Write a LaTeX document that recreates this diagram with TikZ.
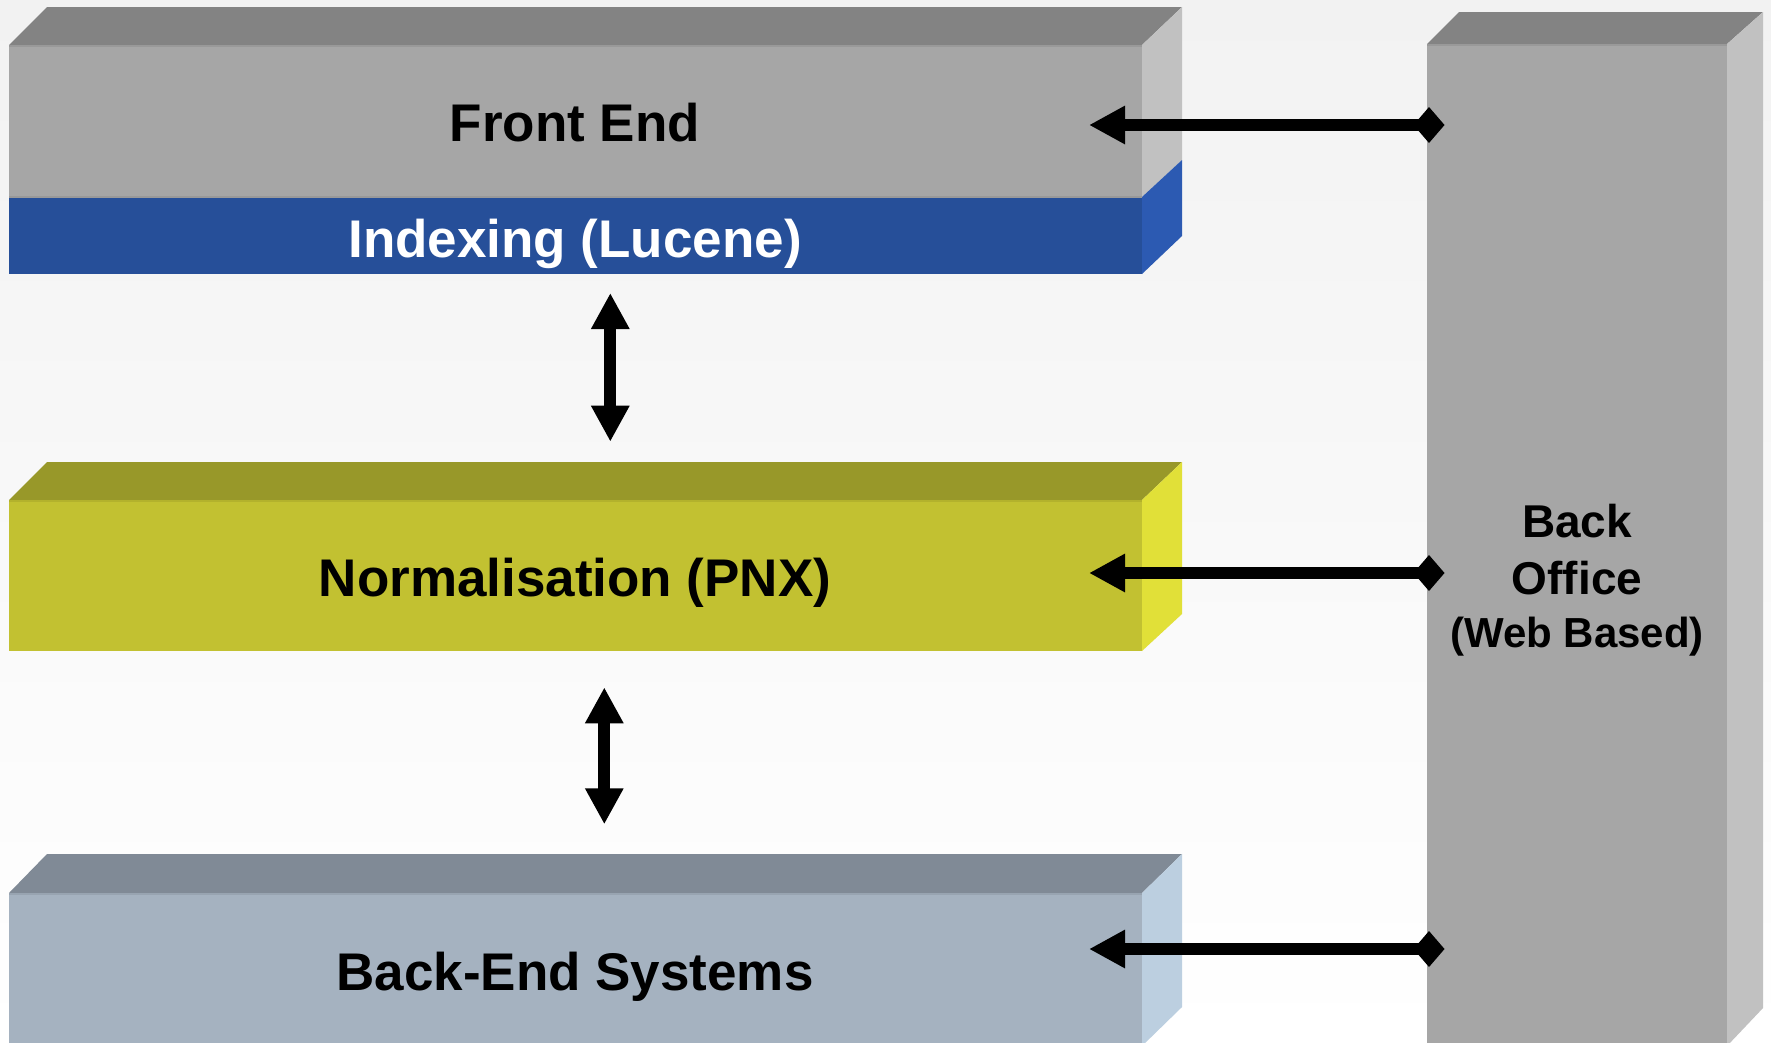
\documentclass[tikz,border=0pt]{standalone}
\usepackage{fontspec}
\setmainfont{Liberation Sans}
\usetikzlibrary{arrows.meta}
\definecolor{bgtop}{HTML}{F2F2F2}
\definecolor{gtop}{HTML}{838383}
\definecolor{gfront}{HTML}{A6A6A6}
\definecolor{gside}{HTML}{C1C1C1}
\definecolor{gedge}{HTML}{999999}
\definecolor{bfront}{HTML}{264F99}
\definecolor{bside}{HTML}{2C5AB2}
\definecolor{ytop}{HTML}{989829}
\definecolor{yfront}{HTML}{C2C131}
\definecolor{yside}{HTML}{E1E038}
\definecolor{yedge}{HTML}{B3B22C}
\definecolor{stop}{HTML}{808A96}
\definecolor{sfront}{HTML}{A5B2C0}
\definecolor{sside}{HTML}{BCCFE0}
\definecolor{sedge}{HTML}{98A4B1}
\begin{document}
\begin{tikzpicture}[x=1pt,y=-1pt,
  lbl/.style={font=\bfseries\fontsize{53}{60}\selectfont, anchor=base, inner sep=0pt},
  bolbl/.style={font=\bfseries\fontsize{46}{52}\selectfont, anchor=base, inner sep=0pt},
  bosmall/.style={font=\bfseries\fontsize{42}{48}\selectfont, anchor=base, inner sep=0pt},
  vconn/.style={line width=12pt, {Triangle[length=36pt,width=36pt]}-{Triangle[length=36pt,width=36pt]}},
  hconn/.style={line width=12pt, {Diamond[length=31pt,width=36pt]}-{Triangle[length=36pt,width=36pt]}}]
\shade[top color=bgtop, bottom color=white] (0,0) rectangle (1771,1042);
\useasboundingbox (0,0) rectangle (1771,1042);
\clip (0,0) rectangle (1771,1042);

% Front End / Indexing block
\fill[gtop] (9,45) -- (47,7) -- (1182,7) -- (1142,45) -- cycle;
\fill[gfront] (9,45) rectangle (1142,197);
\draw[gedge, line width=2pt] (9,46) -- (1142,46);
\fill[gside] (1142,45) -- (1182,7) -- (1182,160) -- (1142,197) -- cycle;
\fill[bfront] (9,197) rectangle (1142,274);
\draw[gedge, line width=2pt] (9,197) -- (1142,197);
\fill[bside] (1142,197) -- (1182,160) -- (1182,236) -- (1142,274) -- cycle;
\node[lbl] (fe) at (575,141) {Front End};
\node[lbl, text=white] (idx) at (575,257) {Indexing (Lucene)};

% Normalisation block
\fill[ytop] (9,500) -- (47,462) -- (1182,462) -- (1142,500) -- cycle;
\fill[yfront] (9,500) rectangle (1142,651);
\draw[yedge, line width=2pt] (9,501) -- (1142,501);
\fill[yside] (1142,500) -- (1182,462) -- (1182,614) -- (1142,651) -- cycle;
\node[lbl] (nm) at (575,596) {Normalisation (PNX)};

% Back-End Systems block
\fill[stop] (9,893) -- (47,854) -- (1182,854) -- (1142,893) -- cycle;
\fill[sfront] (9,893) rectangle (1142,1046);
\draw[sedge, line width=2pt] (9,894) -- (1142,894);
\fill[sside] (1142,893) -- (1182,854) -- (1182,1007) -- (1142,1046) -- cycle;
\node[lbl] (be) at (575,990) {Back-End Systems};

% Back Office block
\fill[gtop] (1427,44) -- (1459,12) -- (1763,12) -- (1727,44) -- cycle;
\fill[gfront] (1427,44) rectangle (1727,1046);
\draw[gedge, line width=2pt] (1427,45) -- (1727,45);
\fill[gside] (1727,44) -- (1763,12) -- (1763,1008) -- (1727,1046) -- cycle;
\node[bolbl] (bo1) at (1577,537) {Back};
\node[bolbl] (bo2) at (1577,594) {Office};
\node[bosmall] (bo3) at (1577,647) {(Web Based)};

% connector end points
\coordinate (v1a) at (610.3,293);
\coordinate (v1b) at (610.3,441.7);
\coordinate (v2a) at (604.3,687.3);
\coordinate (v2b) at (604.3,824.3);
\coordinate (feIn) at (1089,125);
\coordinate (boFe) at (1444.5,125);
\coordinate (nmIn) at (1089,573);
\coordinate (boNm) at (1444.5,573);
\coordinate (beIn) at (1089,949);
\coordinate (boBe) at (1444.5,949);

\draw[vconn] (v1a) -- (v1b);
\draw[vconn] (v2a) -- (v2b);
\draw[hconn] (boFe) -- (feIn);
\draw[hconn] (boNm) -- (nmIn);
\draw[hconn] (boBe) -- (beIn);
\end{tikzpicture}
\end{document}
